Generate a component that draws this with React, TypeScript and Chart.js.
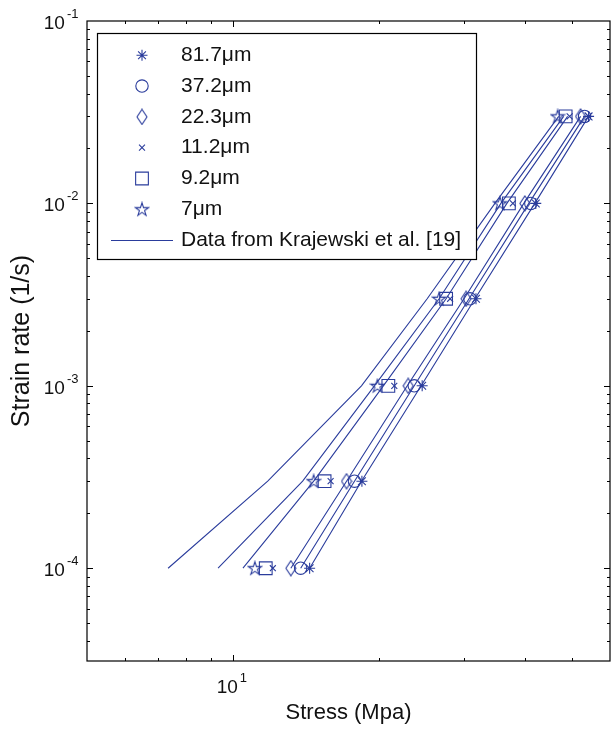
import React, { useEffect, useRef } from 'react';
import { Chart, registerables } from 'chart.js';
import { drawPoint } from 'chart.js/helpers';

Chart.register(...registerables);

// ---------- data ----------
const strainRates = [1e-4, 3e-4, 1e-3, 3e-3, 1e-2, 3e-2];

const sizeLabels = ['81.7μm', '37.2μm', '22.3μm', '11.2μm', '9.2μm', '7μm'];
const stress81_7 = [14.4, 18.46, 24.58, 31.74, 42.17, 54.19];
const stress37_2 = [13.8, 17.82, 23.67, 30.85, 41.19, 53.17];
const stress22_3 = [13.17, 17.16, 23.0, 30.28, 40.03, 52.17];
const stress11_2 = [12.09, 15.91, 21.53, 28.07, 37.82, 49.53];
const stress9_2 = [11.69, 15.46, 20.93, 27.54, 37.11, 48.6];
const stress7 = [11.1, 14.68, 19.87, 26.64, 35.56, 46.79];

const modelLabel = 'Data from Krajewski et al. [19]';
const model81_7 = [14.4, 18.42, 24.46, 31.59, 41.97, 54.19];
const model37_2 = [13.8, 17.82, 23.67, 30.71, 40.8, 53.17];
const model22_3 = [13.17, 17.16, 22.9, 29.99, 39.84, 52.17];
const model11_2 = [10.49, 14.68, 20.44, 27.54, 36.76, 49.06];
const model9_2 = [9.32, 13.93, 19.59, 26.64, 35.73, 48.14];
const model7 = [7.35, 11.8, 18.42, 25.17, 34.73, 47.02];

const xMin = 5;
const xMax = 60;
const yMin = 3.1e-5;
const yMax = 0.1;
const xTickExponents = [1];
const yTickExponents = [-4, -3, -2, -1];

const xTitle = 'Stress (Mpa)';
const yTitle = 'Strain rate (1/s)';

// ---------- style ----------
const BLUE = '#2a3c9c';
const FONT = '"Liberation Sans", Arial, Helvetica, sans-serif';
const TEXT = '#111';

function makeMarker(w: number, h: number, draw: (ctx: CanvasRenderingContext2D) => void) {
  const c = document.createElement('canvas');
  c.width = w;
  c.height = h;
  const ctx = c.getContext('2d')!;
  ctx.strokeStyle = BLUE;
  ctx.lineWidth = 1.1;
  draw(ctx);
  return c;
}

const framePlugin = {
  id: 'frameTicks',
  afterDatasetsDraw(chart: any) {
    const { ctx, chartArea: a, scales } = chart;
    const xs = scales.x;
    const ys = scales.y;
    ctx.save();
    ctx.strokeStyle = '#000';
    ctx.lineWidth = 1.2;
    ctx.strokeRect(a.left, a.top, a.right - a.left, a.bottom - a.top);
    ctx.lineWidth = 1;
    const each = (min: number, max: number, fn: (v: number, major: boolean) => void) => {
      for (let d = Math.floor(Math.log10(min)); d <= Math.ceil(Math.log10(max)); d++) {
        for (let m = 1; m <= 9; m++) {
          const v = m * Math.pow(10, d);
          if (v > min * 1.0001 && v < max * 0.9999) fn(v, m === 1);
        }
      }
    };
    ctx.beginPath();
    each(xMin, xMax, (v, major) => {
      const px = Math.round(xs.getPixelForValue(v)) + 0.5;
      const len = major ? 6 : 3;
      ctx.moveTo(px, a.bottom);
      ctx.lineTo(px, a.bottom - len);
      ctx.moveTo(px, a.top);
      ctx.lineTo(px, a.top + len);
    });
    each(yMin, yMax, (v, major) => {
      const py = Math.round(ys.getPixelForValue(v)) + 0.5;
      const len = major ? 6 : 3;
      ctx.moveTo(a.left, py);
      ctx.lineTo(a.left + len, py);
      ctx.moveTo(a.right, py);
      ctx.lineTo(a.right - len, py);
    });
    ctx.stroke();

    // tick labels with superscript exponents
    const big = `19px ${FONT}`;
    const small = `13px ${FONT}`;
    ctx.fillStyle = TEXT;
    ctx.textBaseline = 'alphabetic';
    ctx.textAlign = 'left';
    xTickExponents.forEach((e) => {
      const px = xs.getPixelForValue(Math.pow(10, e));
      ctx.font = big;
      const w1 = ctx.measureText('10').width;
      ctx.font = small;
      const es = String(e);
      const w2 = ctx.measureText(es).width;
      const start = px - (w1 + 2 + w2) / 2 - 1;
      ctx.font = big;
      ctx.fillText('10', start, a.bottom + 31.5);
      ctx.font = small;
      ctx.fillText(es, start + w1 + 2, a.bottom + 20.5);
    });
    yTickExponents.forEach((e) => {
      const py = ys.getPixelForValue(Math.pow(10, e));
      ctx.font = small;
      const es = String(e);
      const w2 = ctx.measureText(es).width;
      ctx.font = big;
      const w1 = ctx.measureText('10').width;
      const right = a.left - 8.5;
      ctx.fillText('10', right - w2 - 2 - w1, py + 8);
      ctx.font = small;
      ctx.fillText(es, right - w2, py - 3);
    });
    ctx.restore();
  },
};

const legendPlugin = {
  id: 'boxLegend',
  afterDatasetsDraw(chart: any) {
    const ctx = chart.ctx;
    const L = 97.5, T = 33.5, R = 476.5, B = 259.5;
    ctx.save();
    ctx.fillStyle = '#fff';
    ctx.fillRect(L, T, R - L, B - T);
    ctx.strokeStyle = '#000';
    ctx.lineWidth = 1.2;
    ctx.strokeRect(L, T, R - L, B - T);
    const items = chart.data.datasets.filter((d: any) => d.label);
    items.forEach((ds: any, i: number) => {
      const cy = 55.3 + i * 30.8;
      ctx.strokeStyle = BLUE;
      ctx.lineWidth = 1.1;
      if (ds.showLine) {
        ctx.beginPath();
        ctx.moveTo(111, Math.round(cy) + 0.5);
        ctx.lineTo(173, Math.round(cy) + 0.5);
        ctx.stroke();
      } else {
        ctx.fillStyle = 'rgba(0,0,0,0)';
        drawPoint(ctx, { pointStyle: ds.pointStyle, radius: ds.pointRadius, rotation: 0, borderWidth: 1.1 } as any, 142, cy);
      }
      ctx.fillStyle = TEXT;
      ctx.font = `21px ${FONT}`;
      ctx.textBaseline = 'middle';
      ctx.textAlign = 'left';
      ctx.fillText(ds.label, 181, cy);
    });
    ctx.restore();
  },
};

export default function App() {
  const ref = useRef<HTMLCanvasElement>(null);

  useEffect(() => {
    const canvas = ref.current;
    if (!canvas) return;

    const pentagram = makeMarker(16, 16, (ctx) => {
      const cx = 8, cy = 8.5, R = 7, r = R * 0.382;
      ctx.beginPath();
      for (let i = 0; i < 10; i++) {
        const ang = -Math.PI / 2 + (i * Math.PI) / 5;
        const rr = i % 2 === 0 ? R : r;
        ctx.lineTo(cx + rr * Math.cos(ang), cy + rr * Math.sin(ang));
      }
      ctx.closePath();
      ctx.stroke();
    });
    const diamond = makeMarker(12, 17, (ctx) => {
      ctx.beginPath();
      ctx.moveTo(6, 1);
      ctx.lineTo(11, 8.5);
      ctx.lineTo(6, 16);
      ctx.lineTo(1, 8.5);
      ctx.closePath();
      ctx.stroke();
    });

    const toPts = (arr: number[]) => arr.map((v, i) => ({ x: v, y: strainRates[i] }));

    const markerDefs: any[] = [
      { label: sizeLabels[0], data: toPts(stress81_7), pointStyle: 'star', pointRadius: 5.5 },
      { label: sizeLabels[1], data: toPts(stress37_2), pointStyle: 'circle', pointRadius: 6.2 },
      { label: sizeLabels[2], data: toPts(stress22_3), pointStyle: diamond, pointRadius: 7 },
      { label: sizeLabels[3], data: toPts(stress11_2), pointStyle: 'crossRot', pointRadius: 4.2 },
      { label: sizeLabels[4], data: toPts(stress9_2), pointStyle: 'rect', pointRadius: 9 },
      { label: sizeLabels[5], data: toPts(stress7), pointStyle: pentagram, pointRadius: 7 },
    ];
    const markerSets = markerDefs.map((d) => ({
      ...d,
      showLine: false,
      borderColor: BLUE,
      backgroundColor: 'rgba(0,0,0,0)',
      pointBorderColor: BLUE,
      pointBackgroundColor: 'rgba(0,0,0,0)',
      pointBorderWidth: 1.1,
    }));

    const models = [model81_7, model37_2, model22_3, model11_2, model9_2, model7];
    const lineSets = models.map((m, i) => ({
      label: i === 0 ? modelLabel : '',
      data: toPts(m),
      showLine: true,
      borderColor: BLUE,
      backgroundColor: BLUE,
      borderWidth: 1.1,
      pointRadius: 0,
      tension: 0,
      fill: false,
    }));

    const chart = new Chart(canvas, {
      type: 'scatter',
      data: { datasets: [...markerSets, ...lineSets] as any },
      options: {
        animation: false,
        responsive: false,
        maintainAspectRatio: false,
        layout: { autoPadding: false, padding: { top: 21, right: 1, left: 0, bottom: 0 } },
        plugins: { legend: { display: false }, tooltip: { enabled: false } },
        scales: {
          x: {
            type: 'logarithmic',
            min: xMin,
            max: xMax,
            grid: { display: false },
            border: { display: false },
            ticks: { display: false },
            title: {
              display: true,
              text: xTitle,
              color: TEXT,
              font: { family: FONT, size: 22 },
              padding: { top: 0, bottom: 6 },
            },
            afterFit: (s: any) => {
              s.height = 71;
            },
          },
          y: {
            type: 'logarithmic',
            min: yMin,
            max: yMax,
            grid: { display: false },
            border: { display: false },
            ticks: { display: false },
            title: {
              display: true,
              text: yTitle,
              color: TEXT,
              font: { family: FONT, size: 25 },
              padding: { top: 7, bottom: 0 },
            },
            afterFit: (s: any) => {
              s.width = 87;
            },
          },
        },
      } as any,
      plugins: [framePlugin, legendPlugin],
    });
    return () => chart.destroy();
  }, []);

  return (
    <div style={{ position: 'absolute', left: 0, top: 0, width: 611, height: 732, background: '#fff' }}>
      <canvas ref={ref} width={611} height={732} style={{ display: 'block' }} />
    </div>
  );
}
